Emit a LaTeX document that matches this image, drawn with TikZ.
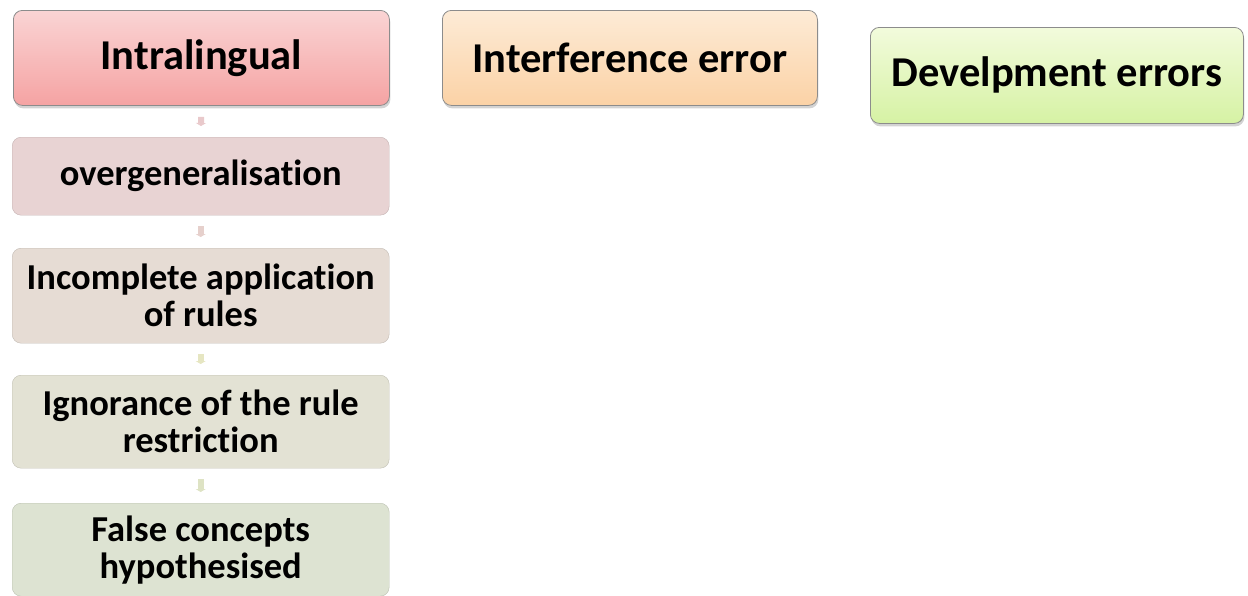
\documentclass[tikz,border=0pt]{standalone}
\usepackage{fontspec}
\setmainfont[Ligatures=NoCommon]{Carlito}
\usetikzlibrary{shadows,arrows.meta}
\definecolor{pkTop}{HTML}{FAD4D4}
\definecolor{pkBot}{HTML}{F5A3A3}
\definecolor{orTop}{HTML}{FDEBD6}
\definecolor{orBot}{HTML}{FBD2A6}
\definecolor{grTop}{HTML}{F2FBDC}
\definecolor{grBot}{HTML}{D6F2A4}
\definecolor{cA}{HTML}{E8D3D3}
\definecolor{cB}{HTML}{E6DCD4}
\definecolor{cC}{HTML}{E3E2D4}
\definecolor{cD}{HTML}{DDE3D2}
\definecolor{dA}{HTML}{E9C9CB}
\definecolor{dB}{HTML}{E6D0CC}
\definecolor{dC}{HTML}{E6E6C2}
\definecolor{dD}{HTML}{DEE3C4}
\tikzset{
  headbox/.style={draw=black!45, line width=0.8pt, rounded corners=9pt, anchor=north west,
    align=center, inner sep=0pt, font=\fontsize{42.5}{50}\selectfont\bfseries,
    drop shadow={shadow xshift=1pt, shadow yshift=-3pt, opacity=0.35}},
  subbox/.style={draw=#1!85!black, line width=0.4pt, fill=#1, rounded corners=9pt, anchor=north west,
    align=center, inner sep=0pt, font=\fontsize{36.5}{37}\selectfont\bfseries},
  conn/.style={draw=#1, line width=6pt, shorten >=11pt, shorten <=11pt,
    -{Triangle[length=3pt,width=10pt]}},
}
\begin{document}
\begin{tikzpicture}[x=1pt,y=-1pt]
\useasboundingbox (0,0) rectangle (1248,595);
\node[headbox, top color=pkTop, bottom color=pkBot, minimum width=376pt, minimum height=95pt] (intra) at (13,10) {Intralingual};
\node[headbox, top color=orTop, bottom color=orBot, minimum width=375pt, minimum height=95pt] (interf) at (442,10) {Interference error};
\node[headbox, top color=grTop, bottom color=grBot, minimum width=373pt, minimum height=96pt] (devel) at (870,27) {Develpment errors};
\node[subbox=cA, minimum width=377pt, minimum height=78pt] (over) at (12,137) {overgeneralisation};
\node[subbox=cB, minimum width=377pt, minimum height=95pt] (incomp) at (12,248) {Incomplete application\\of rules};
\node[subbox=cC, minimum width=377pt, minimum height=93pt] (ignor) at (12,375) {Ignorance of the rule\\restriction};
\node[subbox=cD, minimum width=377pt, minimum height=93pt] (false) at (12,503) {False concepts\\hypothesised};
\draw[conn=dA] (intra) -- (over);
\draw[conn=dB] (over) -- (incomp);
\draw[conn=dC] (incomp) -- (ignor);
\draw[conn=dD] (ignor) -- (false);
\end{tikzpicture}
\end{document}
